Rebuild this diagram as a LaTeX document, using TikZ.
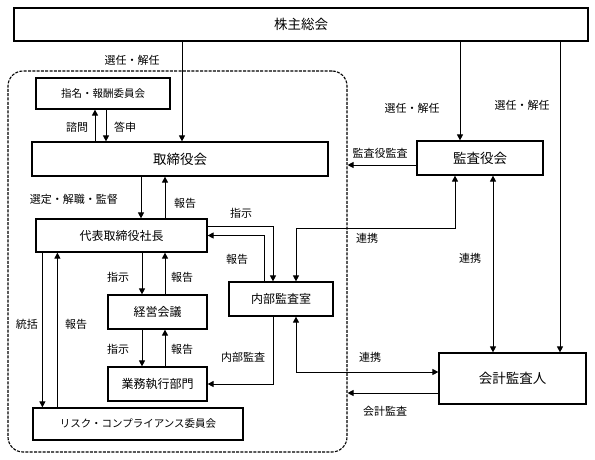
\documentclass[tikz,border=0pt]{standalone}
\usepackage{fontspec}
\setmainfont{Noto Sans CJK JP}
\usetikzlibrary{arrows.meta,calc}
\begin{document}
\begin{tikzpicture}[x=1pt,y=-1pt,
 box/.style={draw,line width=1.2pt,inner sep=0pt,font=\fontsize{12}{14}\selectfont},
 bigbox/.style={box,font=\fontsize{13.5}{15}\selectfont},
 smallbox/.style={box,font=\fontsize{10.5}{12}\selectfont},
 arr/.style={line width=0.9pt,-{Triangle[length=6pt,width=6pt]}},
 darr/.style={line width=0.9pt,{Triangle[length=6pt,width=6pt]}-{Triangle[length=6pt,width=6pt]}},
 lbl/.style={font=\fontsize{11}{13}\selectfont,inner sep=0pt}]
\useasboundingbox (0,0) rectangle (595,459);
\fill[white] (0,0) rectangle (595,459);

% frame
\node[draw,line width=1.1pt,dash pattern=on 3pt off 1.3pt,rounded corners=15pt,
  minimum width=339pt,minimum height=381pt,inner sep=0pt] (frame) at (177.5,261.5) {};

% boxes
\node[bigbox,minimum width=574pt,minimum height=33pt] (kabu) at (301,24.5) {株主総会};
\node[smallbox,minimum width=134pt,minimum height=31pt] (shimei) at (103,93.5) {指名・報酬委員会};
\node[bigbox,minimum width=296pt,minimum height=34pt] (tori) at (180,159) {取締役会};
\node[box,minimum width=171pt,minimum height=33pt] (dai) at (121.5,235.5) {代表取締役社長};
\node[box,minimum width=99pt,minimum height=34pt] (keiei) at (157.5,312) {経営会議};
\node[box,minimum width=99pt,minimum height=34pt] (gyomu) at (157.5,384) {業務執行部門};
\node[smallbox,minimum width=210pt,minimum height=32pt] (risk) at (138,424) {リスク・コンプライアンス委員会};
\node[box,minimum width=104pt,minimum height=34pt] (naibu) at (281,299) {内部監査室};
\node[bigbox,minimum width=126pt,minimum height=34pt] (kansa) at (480,158) {監査役会};
\node[bigbox,minimum width=147pt,minimum height=51pt] (kaikei) at (512.5,378.5) {会計監査人};

% kabu -> tori / kansa / kaikei
\coordinate (a1) at ([xshift=2pt]tori.north);
\draw[arr] (a1 |- kabu.south) -- (a1);
\coordinate (a2) at ([xshift=-20pt]kansa.north);
\draw[arr] (a2 |- kabu.south) -- (a2);
\coordinate (a3) at ([xshift=47.5pt]kaikei.north);
\draw[arr] (a3 |- kabu.south) -- (a3);

% shimei <-> tori
\coordinate (s1) at ([xshift=-8pt]shimei.south);
\draw[arr] (s1 |- tori.north) -- (s1);
\coordinate (s2) at ([xshift=3pt]shimei.south);
\draw[arr] (s2) -- (s2 |- tori.north);

% tori <-> dai
\coordinate (d1) at ([xshift=19.5pt]dai.north);
\draw[arr] (d1 |- tori.south) -- (d1);
\coordinate (d2) at ([xshift=43.5pt]dai.north);
\draw[arr] (d2) -- (d2 |- tori.south);

% dai <-> keiei
\coordinate (k1) at ([xshift=-15.5pt]keiei.north);
\draw[arr] (k1 |- dai.south) -- (k1);
\coordinate (k2) at ([xshift=7.5pt]keiei.north);
\draw[arr] (k2) -- (k2 |- dai.south);

% keiei <-> gyomu
\coordinate (g1) at ([xshift=-15.5pt]gyomu.north);
\draw[arr] (g1 |- keiei.south) -- (g1);
\coordinate (g2) at ([xshift=7.5pt]gyomu.north);
\draw[arr] (g2) -- (g2 |- keiei.south);

% dai <-> risk
\coordinate (r1) at ([xshift=10pt]risk.north west);
\draw[arr] (r1 |- dai.south) -- (r1);
\coordinate (r2) at ([xshift=25pt]risk.north west);
\draw[arr] (r2) -- (r2 |- dai.south);

% dai <-> naibu
\coordinate (n1) at ([xshift=-8pt]naibu.north);
\coordinate (e1) at ([yshift=9.5pt]dai.east);
\draw[arr] (e1) -| (n1);
\coordinate (n2) at ([xshift=-17pt]naibu.north);
\draw[arr] (n2) |- (dai.east);

% naibu <-> kansa
\coordinate (n3) at ([xshift=15pt]naibu.north);
\coordinate (m1) at ([xshift=-25pt]kansa.south);
\draw[darr] (n3) -- ++(0,-53) -| (m1);

% naibu <-> kaikei
\coordinate (n4) at ([xshift=15pt]naibu.south);
\coordinate (w1) at ([yshift=6.5pt]kaikei.west);
\draw[darr] (n4) |- (w1);

% naibu -> gyomu
\coordinate (n5) at ([xshift=-8pt]naibu.south);
\draw[arr] (n5) |- (gyomu.east);

% kansa -> frame, kaikei -> frame
\coordinate (w2) at ([yshift=-7pt]kansa.west);
\draw[arr] (w2) -- (w2 -| frame.east);
\coordinate (w3) at ([yshift=-14.5pt]kaikei.west);
\draw[arr] (w3) -- (w3 -| frame.east);

% kansa <-> kaikei
\coordinate (m2) at ([xshift=13pt]kansa.south);
\draw[darr] (m2) -- (m2 |- kaikei.north);

% labels
\node[lbl] (l1) at (132,60) {選任・解任};
\node[lbl] (l2) at (412,108) {選任・解任};
\node[lbl] (l3) at (522,105) {選任・解任};
\node[lbl] (l4) at (77,127) {諮問};
\node[lbl] (l5) at (125,127) {答申};
\node[lbl] (l6) at (74,199) {選定・解職・監督};
\node[lbl] (l7) at (185,203) {報告};
\node[lbl] (l8) at (241,213) {指示};
\node[lbl] (l9) at (237,259) {報告};
\node[lbl] (l10) at (367,238) {連携};
\node[lbl] (l11) at (380,153) {監査役監査};
\node[lbl] (l12) at (470,258) {連携};
\node[lbl] (l13) at (118,277) {指示};
\node[lbl] (l14) at (182,277) {報告};
\node[lbl] (l15) at (118,349) {指示};
\node[lbl] (l16) at (182,349) {報告};
\node[lbl] (l17) at (27,324) {統括};
\node[lbl] (l18) at (76,324) {報告};
\node[lbl] (l19) at (243,357) {内部監査};
\node[lbl] (l20) at (370,357) {連携};
\node[lbl] (l21) at (385,411) {会計監査};
\end{tikzpicture}
\end{document}
